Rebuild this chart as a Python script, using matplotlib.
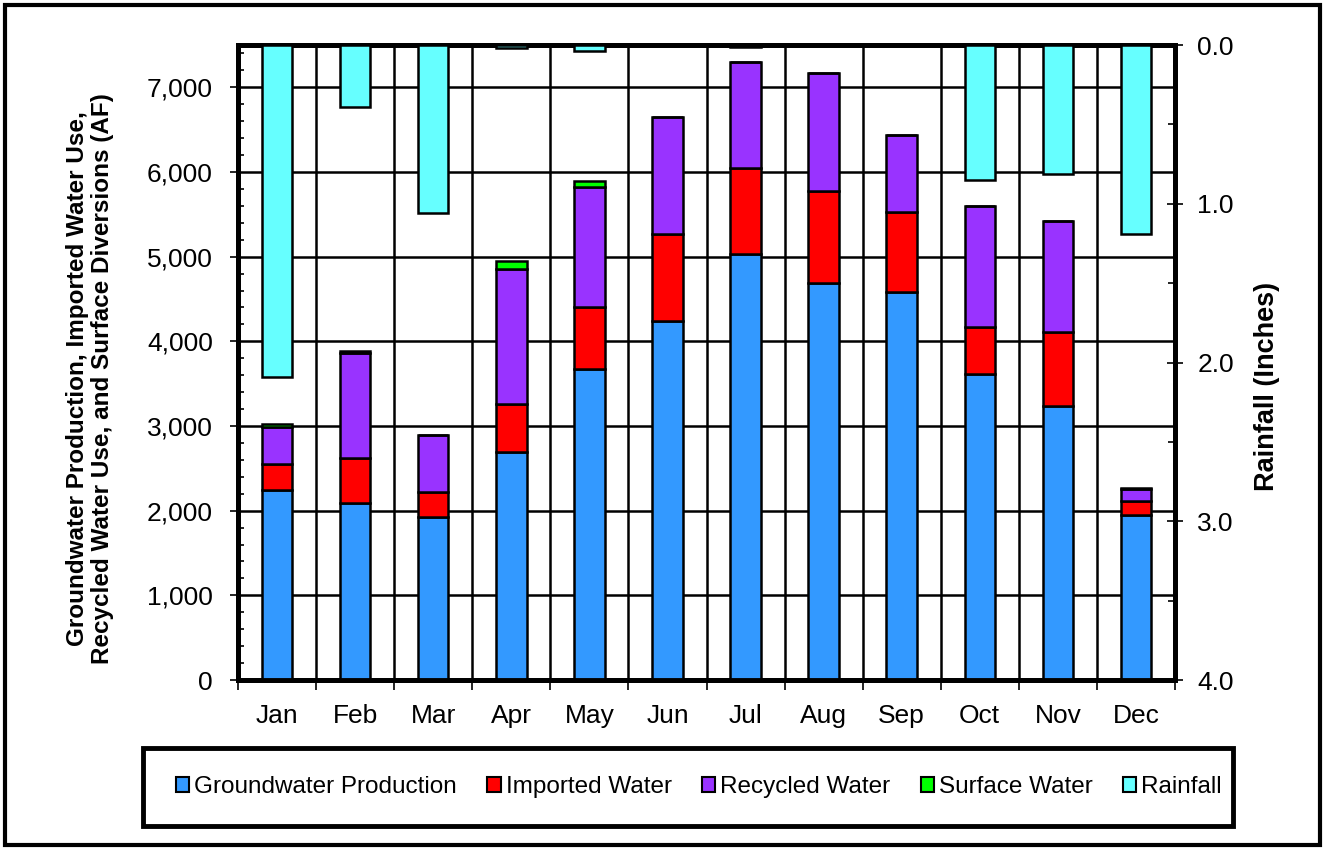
import numpy as np
import matplotlib
matplotlib.use("Agg")
import matplotlib.pyplot as plt
from matplotlib.patches import Patch, Rectangle

months = ["Jan", "Feb", "Mar", "Apr", "May", "Jun", "Jul", "Aug", "Sep", "Oct", "Nov", "Dec"]
groundwater = [2245, 2095, 1920, 2695, 3670, 4240, 5030, 4690, 4580, 3620, 3240, 1950]
imported = [305, 525, 295, 560, 740, 1025, 1015, 1090, 945, 550, 865, 165]
recycled = [435, 1240, 675, 1595, 1408, 1390, 1250, 1395, 910, 1430, 1320, 140]
surface = [35, 20, 0, 100, 77, 0, 0, 0, 0, 0, 0, 10]
rainfall = [2.09, 0.39, 1.06, 0.02, 0.035, 0.0, 0.01, 0.0, 0.0, 0.85, 0.81, 1.19]

series_names = ["Groundwater Production", "Imported Water", "Recycled Water", "Surface Water", "Rainfall"]
colors = ["#3399FF", "#FF0000", "#9933FF", "#00FF00", "#66FFFF"]

plt.rcParams['font.family'] = ['Liberation Sans', 'DejaVu Sans']

W, H = 1326, 850
fig = plt.figure(figsize=(W / 100, H / 100), dpi=100)
ax = fig.add_axes([238 / W, 1 - 680 / H, (1175 - 238) / W, (680 - 45) / H])

x = np.arange(len(months))
bw = 0.39
bottom = np.zeros(len(months))
for vals, col in zip([groundwater, imported, recycled, surface], colors[:4]):
    v = np.array(vals, dtype=float)
    ax.bar(x, v, bw, bottom=bottom, color=col, edgecolor="black", linewidth=1.8, zorder=3)
    bottom += v

ax.set_xlim(-0.5, 11.5)
ax.set_ylim(0, 7500)
ax.set_yticks(np.arange(0, 7001, 1000))
ax.set_yticklabels([f"{v:,}" for v in range(0, 7001, 1000)])
ax.set_yticks(np.arange(0, 7501, 200), minor=True)
ax.set_xticks(x)
ax.set_xticklabels(months)
ax.set_xticks(np.arange(-0.5, 12, 1), minor=True)
ax.grid(True, axis="y", which="major", color="black", linewidth=1.8, zorder=0)
ax.grid(True, axis="x", which="minor", color="black", linewidth=1.8, zorder=0)
ax.set_axisbelow(True)
ax.tick_params(axis="x", which="major", length=0, pad=17, labelsize=19)
ax.tick_params(axis="x", which="minor", length=7, width=1.2, direction="out")
ax.tick_params(axis="y", which="major", length=6, width=1.2, direction="out", pad=12, labelsize=19)
ax.tick_params(axis="y", which="minor", length=4, width=1.2, direction="in")
for s in ax.spines.values():
    s.set_linewidth(3.5)

ax2 = ax.twinx()
ax2.bar(x, rainfall, bw, color=colors[4], edgecolor="black", linewidth=1.8, zorder=3)
ax2.set_ylim(4.0, 0.0)
ax2.set_yticks(np.arange(0, 4.01, 1.0))
ax2.set_yticklabels([f"{v:.1f}" for v in np.arange(0, 4.01, 1.0)])
ax2.set_yticks(np.arange(0, 4.01, 0.5), minor=True)
ax2.tick_params(axis="y", which="major", length=12, width=1.2, direction="inout", pad=10, labelsize=19)
ax2.tick_params(axis="y", which="minor", length=5, width=1.2, direction="in")
for s in ax2.spines.values():
    s.set_linewidth(3.5)

fig.text(90 / W, 1 - 379 / H,
         "Groundwater Production, Imported Water Use,\nRecycled Water Use, and Surface Diversions (AF)",
         rotation=90, ha="center", va="center", fontsize=17.5, fontweight="bold", linespacing=1.1)
fig.text(1267 / W, 1 - 386 / H, "Rainfall (Inches)", rotation=90, ha="center", va="center",
         fontsize=19.5, fontweight="bold")

# legend box
fig.patches.append(Rectangle((143 / W, 1 - 826 / H), (1233 - 143) / W, (826 - 748) / H,
                             transform=fig.transFigure, fill=False, edgecolor="black", linewidth=3.5))
handles = [Patch(facecolor=c, edgecolor="black", linewidth=1.5) for c in colors]
fig.legend(handles, series_names, loc="center", bbox_to_anchor=(699 / W, 1 - 787 / H),
           ncol=5, frameon=False, fontsize=17.5, handlelength=0.55, handleheight=0.55,
           handletextpad=0.2, columnspacing=1.25)

# outer border
fig.patches.append(Rectangle((5 / W, 5 / H), (1320 - 5) / W, (845 - 5) / H,
                             transform=fig.transFigure, fill=False, edgecolor="black", linewidth=3))

fig.savefig("out.png", dpi=100)
